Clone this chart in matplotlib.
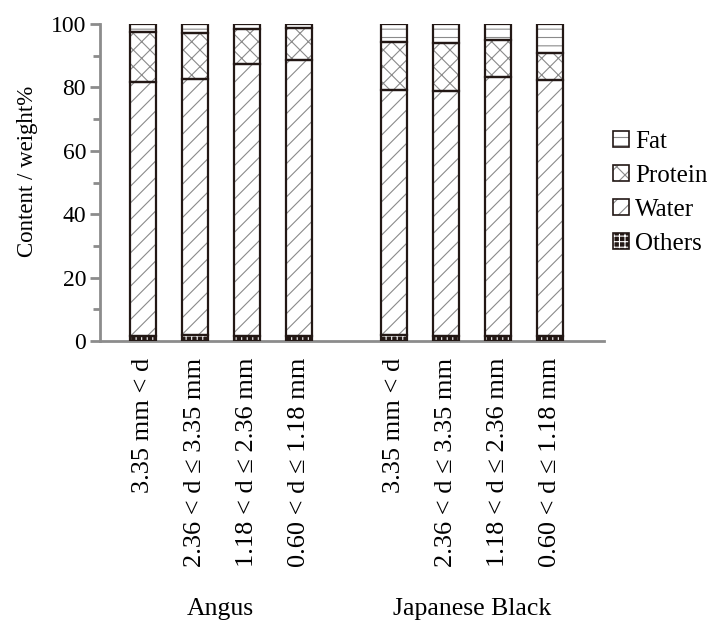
import matplotlib
matplotlib.use('Agg')
import matplotlib.pyplot as plt
from matplotlib.patches import Patch
import numpy as np

plt.rcParams['font.family'] = ['Liberation Serif', 'DejaVu Serif']
plt.rcParams['hatch.linewidth'] = 0.8

groups = ['Angus', 'Japanese Black']
sizes = ['3.35 mm < d', '2.36 < d ≤ 3.35 mm', '1.18 < d ≤ 2.36 mm', '0.60 < d ≤ 1.18 mm']

# content (weight %) per bar: Angus x4, Japanese Black x4
others = [1.5, 1.8, 1.5, 1.5, 1.8, 1.5, 1.5, 1.5]
water = [80.3, 80.8, 85.8, 87.2, 77.4, 77.4, 81.9, 80.8]
protein = [15.6, 14.7, 11.0, 10.1, 15.1, 15.0, 11.7, 8.7]
fat = [2.6, 2.7, 1.7, 1.2, 5.7, 6.1, 4.9, 9.0]

edge = '#231815'
hatch_gray = '#8a8a8a'
components = [
    ('Others', others, edge, 'white', '+++'),
    ('Water', water, 'white', hatch_gray, '//'),
    ('Protein', protein, 'white', hatch_gray, 'xx'),
    ('Fat', fat, 'white', hatch_gray, '--'),
]

x = np.r_[np.arange(4), np.arange(4) + 4.84]
width = 0.5

fig = plt.figure(figsize=(7.09, 6.25), dpi=100)
ax = fig.add_axes([100 / 709, 284 / 625, 504 / 709, 317 / 625])

bottom = np.zeros(len(x))
handles = {}
for name, vals, fc, hc, hatch in components:
    vals = np.array(vals)
    ax.bar(x, vals, width, bottom=bottom, facecolor=fc, edgecolor=hc,
           hatch=hatch, linewidth=0, zorder=2)
    ax.bar(x, vals, width, bottom=bottom, fill=False, edgecolor=edge,
           linewidth=1.6, zorder=3)
    handles[name] = (Patch(facecolor=fc, edgecolor=hc, hatch=hatch, linewidth=0),
                     Patch(fill=False, edgecolor=edge, linewidth=1.2))
    bottom += vals

ax.set_xlim(-0.82, 8.875)
ax.set_ylim(0, 100)
ax.set_yticks(np.arange(0, 101, 20))
ax.set_yticks(np.arange(10, 100, 20), minor=True)
ax.set_xticks(x)
ax.set_xticklabels(sizes * 2, rotation=90, fontsize=19)
ax.tick_params(axis='x', length=0, pad=12)
ax.tick_params(axis='y', which='major', length=7, width=2, color='#8c8c8c',
               labelsize=17, pad=3)
ax.tick_params(axis='y', which='minor', length=5, width=2, color='#8c8c8c')
for s in ['top', 'right']:
    ax.spines[s].set_visible(False)
for s in ['left', 'bottom']:
    ax.spines[s].set_color('#8c8c8c')
    ax.spines[s].set_linewidth(2)
ax.set_ylabel('Content / weight%', fontsize=16.5)
ax.yaxis.set_label_coords(-0.124, (341 - 171) / 317)

for gi, g in enumerate(groups):
    cx = x[gi * 4:(gi + 1) * 4].mean()
    ax.text(cx, -84.5, g, ha='center', va='center', fontsize=18.5,
            transform=ax.transData, clip_on=False)

order = ['Fat', 'Protein', 'Water', 'Others']
fig.legend([handles[k] for k in order], order,
           loc='upper left', bbox_to_anchor=(613 / 709, 1 - 131 / 625),
           frameon=False, fontsize=18, handlelength=0.62, handleheight=0.62,
           handletextpad=0.25, labelspacing=0.48, borderaxespad=0,
           borderpad=0)

fig.savefig('out.png', dpi=100)
